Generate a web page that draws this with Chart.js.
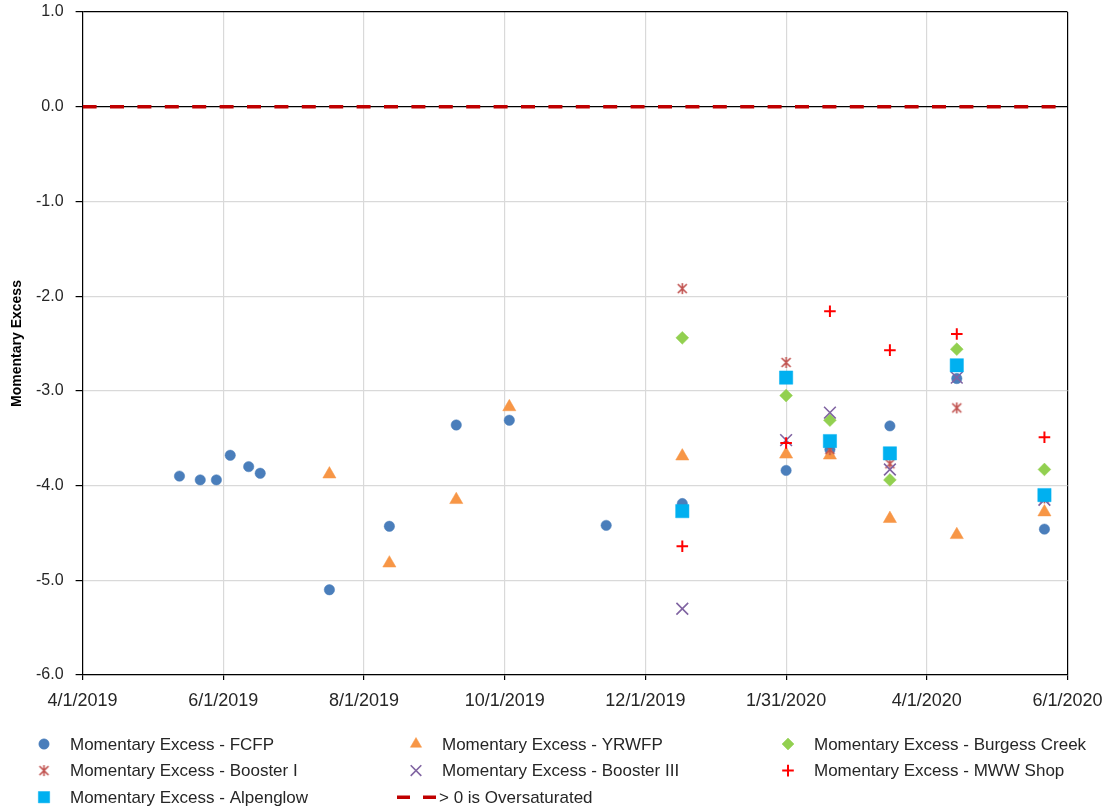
<!DOCTYPE html>
<html>
<head>
<meta charset="utf-8">
<script src="https://cdn.jsdelivr.net/npm/chart.js@4/dist/chart.umd.min.js"></script>
<style>
  html, body { margin: 0; padding: 0; background: #fff; }
  canvas { display: block; }
</style>
</head>
<body>
<canvas id="excessChart" width="1110" height="809"></canvas>
<script>
// x axis runs 4/1/2019 .. 6/1/2020, one tick every 61 days
const xTickLabels = ['4/1/2019', '6/1/2019', '8/1/2019', '10/1/2019', '12/1/2019', '1/31/2020', '4/1/2020', '6/1/2020'];
const yTicks = [1, 0, -1, -2, -3, -4, -5, -6];

// sample dates shared by the distribution sites
const siteDates = ['2019-12-17', '2020-01-31', '2020-02-19', '2020-03-16', '2020-04-14', '2020-05-22'];

const fcfpDates = ['2019-05-13', '2019-05-22', '2019-05-29', '2019-06-04', '2019-06-12', '2019-06-17',
                   '2019-07-17', '2019-08-12', '2019-09-10', '2019-10-03', '2019-11-14',
                   '2019-12-17', '2020-01-31', '2020-02-19', '2020-03-16', '2020-04-14', '2020-05-22'];
const fcfpValues = [-3.90, -3.94, -3.94, -3.68, -3.80, -3.87,
                    -5.10, -4.43, -3.36, -3.31, -4.42,
                    -4.19, -3.84, -3.62, -3.37, -2.87, -4.46];

const yrwfpDates = ['2019-07-17', '2019-08-12', '2019-09-10', '2019-10-03'].concat(siteDates);
const yrwfpValues = [-3.88, -4.82, -4.15, -3.17, -3.69, -3.67, -3.68, -4.35, -4.52, -4.28];

const burgessValues    = [-2.44, -3.05, -3.31, -3.94, -2.56, -3.83];
const boosterIValues   = [-1.92, -2.70, -3.62, -3.77, -3.18, -4.13];
const boosterIIIValues = [-5.30, -3.52, -3.23, -3.83, -2.86, -4.15];
const mwwShopValues    = [-4.64, -3.55, -2.16, -2.57, -2.40, -3.49];
const alpenglowValues  = [-4.27, -2.86, -3.53, -3.66, -2.73, -4.10];

const oversatLine = [0, 0];   // value 0 across the whole date range

const DAY = 86400000;
const START = Date.UTC(2019, 3, 1);
function dayOf(s) {
  const p = s.split('-').map(Number);
  return (Date.UTC(p[0], p[1] - 1, p[2]) - START) / DAY;
}
function pts(dates, values) {
  return dates.map((d, i) => ({ x: dayOf(d), y: values[i] }));
}

const X_STEP = 61;
const X_MAX = X_STEP * (xTickLabels.length - 1);

// Excel-style asterisk: vertical bar plus an X
function asteriskGlyph(color, size) {
  const c = document.createElement('canvas');
  c.width = size; c.height = size;
  const g = c.getContext('2d');
  const m = 1, e = size - 1;
  g.strokeStyle = color;
  g.lineWidth = 1.6;
  g.beginPath();
  g.moveTo(size / 2, m); g.lineTo(size / 2, e);
  g.moveTo(m + 1, m + 1); g.lineTo(e - 1, e - 1);
  g.moveTo(e - 1, m + 1); g.lineTo(m + 1, e - 1);
  g.stroke();
  return c;
}

function markerSet(label, dates, values, color, style, radius, width, legendRadius) {
  return {
    type: 'scatter',
    label: label,
    data: pts(dates, values),
    pointStyle: style,
    pointRadius: radius,
    pointHoverRadius: radius,
    backgroundColor: color,
    borderColor: color,
    pointBorderWidth: width,
    legendRadius: legendRadius
  };
}

const datasets = [
  markerSet('Momentary Excess - FCFP', fcfpDates, fcfpValues, '#4a7ebb', 'circle', 5.2, 0.5, 5.2),
  markerSet('Momentary Excess - YRWFP', yrwfpDates, yrwfpValues, '#f79646', 'triangle', 7.6, 0.5, 6.5),
  markerSet('Momentary Excess - Burgess Creek', siteDates, burgessValues, '#92d050', 'rectRot', 6.4, 0.5, 6),
  markerSet('Momentary Excess - Booster I', siteDates, boosterIValues, '#c0504d', asteriskGlyph('#c0504d', 13), 6, 1.6, 6),
  markerSet('Momentary Excess - Booster III', siteDates, boosterIIIValues, '#8064a2', 'crossRot', 8.3, 1.6, 7.5),
  markerSet('Momentary Excess - MWW Shop', siteDates, mwwShopValues, '#ff0000', 'cross', 5.8, 2, 5.8),
  markerSet('Momentary Excess - Alpenglow', siteDates, alpenglowValues, '#00b0f0', 'rect', 9.4, 0.5, 8),
  {
    type: 'line',
    label: '> 0 is Oversaturated',
    data: [{ x: 0, y: oversatLine[0] }, { x: X_MAX, y: oversatLine[1] }],
    borderColor: '#c00000',
    borderWidth: 3.6,
    borderDash: [14, 13.4],
    pointRadius: 0,
    fill: false,
    isLine: true
  }
];
// later series paint over earlier ones
datasets.forEach((ds, i) => { ds.order = datasets.length - i; });

// three-column legend under the plot
const gridLegend = {
  id: 'gridLegend',
  afterDraw(chart) {
    const ctx = chart.ctx;
    const colW = 372, rowH = 26.6, top = 744;
    ctx.save();
    ctx.font = '17px "Liberation Sans", Arial, sans-serif';
    ctx.textBaseline = 'middle';
    ctx.textAlign = 'left';
    chart.data.datasets.forEach((ds, i) => {
      const col = i % 3, row = Math.floor(i / 3);
      const mx = 44 + col * colW;
      const y = top + row * rowH;
      let tx = 70 + col * colW;
      if (ds.isLine) {
        ctx.strokeStyle = ds.borderColor;
        ctx.lineWidth = ds.borderWidth;
        ctx.setLineDash([13, 13]);
        ctx.beginPath();
        ctx.moveTo(mx - 19, y);
        ctx.lineTo(mx + 20, y);
        ctx.stroke();
        ctx.setLineDash([]);
        tx = mx + 23;
      } else {
        ctx.fillStyle = ds.backgroundColor;
        ctx.strokeStyle = ds.borderColor;
        ctx.lineWidth = ds.pointBorderWidth;
        Chart.helpers.drawPoint(ctx, {
          pointStyle: ds.pointStyle,
          radius: ds.legendRadius,
          rotation: 0,
          borderWidth: ds.pointBorderWidth
        }, mx, y);
      }
      ctx.fillStyle = '#262626';
      ctx.fillText(ds.label, tx, y + 1);
    });
    ctx.restore();
  }
};

Chart.defaults.font.family = '"Liberation Sans", Arial, sans-serif';
Chart.defaults.color = '#262626';

new Chart(document.getElementById('excessChart'), {
  type: 'scatter',
  data: { datasets: datasets },
  options: {
    responsive: false,
    animation: false,
    layout: { autoPadding: false, padding: { left: 4, right: 42.5, top: 12, bottom: 94 } },
    plugins: {
      legend: { display: false },
      tooltip: { enabled: false }
    },
    scales: {
      x: {
        type: 'linear',
        min: 0,
        max: X_MAX,
        afterBuildTicks(scale) {
          scale.ticks = xTickLabels.map((_, i) => ({ value: i * X_STEP }));
        },
        afterFit(scale) {
          scale.height = 40;
          scale.paddingLeft = 0;
          scale.paddingRight = 0;
        },
        ticks: {
          font: { size: 18 },
          padding: 10,
          maxRotation: 0,
          autoSkip: false,
          callback: (v) => xTickLabels[Math.round(v / X_STEP)]
        },
        grid: {
          color: (c) => (c.tick && c.tick.value === X_MAX ? '#000' : '#d9d9d9'),
          lineWidth: 1.2,
          tickColor: '#000',
          tickLength: 5
        },
        border: { color: '#000', width: 1.2 }
      },
      y: {
        min: -6,
        max: 1,
        afterBuildTicks(scale) {
          scale.ticks = yTicks.map((v) => ({ value: v }));
        },
        afterFit(scale) {
          scale.width = 78.6;
          scale.paddingTop = 0;
          scale.paddingBottom = 0;
        },
        ticks: {
          font: { size: 16 },
          padding: 12,
          callback: (v) => v.toFixed(1)
        },
        title: {
          display: true,
          text: 'Momentary Excess',
          font: { size: 14, weight: 'bold' },
          color: '#000',
          padding: { top: 5, bottom: 0 }
        },
        grid: {
          color: (c) => (c.tick && (c.tick.value === 0 || c.tick.value === 1) ? '#000' : '#d9d9d9'),
          lineWidth: 1.2,
          tickColor: '#000',
          tickLength: 7
        },
        border: { color: '#000', width: 1.2 }
      }
    }
  },
  plugins: [gridLegend]
});
</script>
</body>
</html>
